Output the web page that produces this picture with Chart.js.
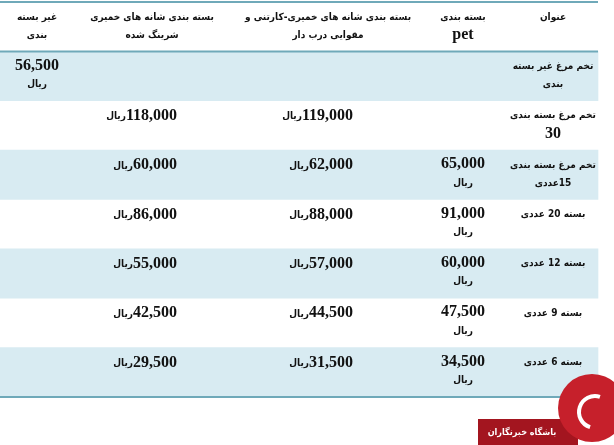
<!DOCTYPE html>
<html>
<head>
<meta charset="utf-8">
<script src="https://cdn.jsdelivr.net/npm/chart.js@4"></script>
<style>
  body { margin: 0; background: #fff; }
  #wrap { width: 614px; height: 445px; }
</style>
</head>
<body>
<div id="wrap"><canvas id="myChart" width="614" height="445"></canvas></div>
<script>
'use strict';

// header texts (right to left columns)
const headers = [
    ['عنوان'],
    ['بسته بندی', 'pet'],
    ['بسته بندی شانه های خمیری-کارتنی و', 'مقوایی درب دار'],
    ['بسته بندی شانه های خمیری', 'شرینگ شده'],
    ['غیر بسته', 'بندی']
];

// row titles
const rowTitles = [
    ['تخم مرغ غیر بسته', 'بندی'],
    ['تخم مرغ بسته بندی', '30'],
    ['تخم مرغ بسته بندی', '15عددی'],
    ['بسته 20 عددی'],
    ['بسته 12 عددی'],
    ['بسته 9 عددی'],
    ['بسته 6 عددی']
];

// prices in rial
const petPrices = [null, null, 65000, 91000, 60000, 47500, 34500];
const cartonPrices = [null, 119000, 62000, 88000, 57000, 44500, 31500];
const shrinkPrices = [null, 118000, 60000, 86000, 55000, 42500, 29500];
const unpackedPrices = [56500, null, null, null, null, null, null];

const rowLabels = ['header'].concat(rowTitles.map(function (t, i) { return 'r' + i; }));

// shaded rows (every other data row)
let bands = [];
for (let i = 0; i < rowLabels.length; i++) {
    bands.push(i % 2 === 1 ? [0, 598] : null);
}

const serif = 'bold 16px "Liberation Serif"';
const arab = 'bold 10px "DejaVu Sans Condensed", "DejaVu Sans"';
const rial = 'ریال';

function fmt(v) {
    return v.toLocaleString('en-US');
}

//table plugin
const tablePlugin = {
    id: 'tableText',
    afterDatasetsDraw(chart) {
        const ctx = chart.ctx;
        const x = chart.scales.x;
        const y = chart.scales.y;
        const band = y.getPixelForValue(1) - y.getPixelForValue(0);
        const top = function (i) { return y.getPixelForValue(i) - band / 2; };
        ctx.save();
        ctx.textBaseline = 'middle';
        ctx.fillStyle = '#111';

        // headers
        const hx = [553, 463, 328, 152, 37];
        for (let c = 0; c < headers.length; c++) {
            for (let l = 0; l < headers[c].length; l++) {
                const s = headers[c][l];
                ctx.font = s === 'pet' ? serif : arab;
                ctx.direction = 'rtl';
                ctx.textAlign = 'center';
                ctx.fillText(s, x.getPixelForValue(hx[c]), top(0) + 15 + l * 18);
            }
        }

        for (let r = 0; r < rowTitles.length; r++) {
            const t0 = top(r + 1);
            // title
            for (let l = 0; l < rowTitles[r].length; l++) {
                const s = rowTitles[r][l];
                ctx.font = /^\d+$/.test(s) ? serif : arab;
                ctx.direction = 'rtl';
                ctx.textAlign = 'center';
                ctx.fillText(s, x.getPixelForValue(553), t0 + 15 + l * 18);
            }
            // stacked price cells
            [[petPrices, 463], [unpackedPrices, 37]].forEach(function (p) {
                const v = p[0][r];
                if (v === null) return;
                ctx.direction = 'ltr';
                ctx.textAlign = 'center';
                ctx.font = serif;
                ctx.fillText(fmt(v), x.getPixelForValue(p[1]), t0 + 14);
                ctx.font = arab;
                ctx.direction = 'rtl';
                ctx.fillText(rial, x.getPixelForValue(p[1]), t0 + 33);
            });
            // inline price cells
            [[cartonPrices, 353], [shrinkPrices, 177]].forEach(function (p) {
                const v = p[0][r];
                if (v === null) return;
                const px = x.getPixelForValue(p[1]);
                ctx.direction = 'ltr';
                ctx.textAlign = 'right';
                ctx.font = serif;
                const s = fmt(v);
                ctx.fillText(s, px, t0 + 15);
                const w = ctx.measureText(s).width;
                ctx.font = arab;
                ctx.fillText(rial, px - w, t0 + 16);
            });
        }

        // rules
        ctx.strokeStyle = '#6fa9b9';
        ctx.lineWidth = 2;
        [top(0), top(1), top(rowLabels.length)].forEach(function (yy) {
            ctx.beginPath();
            ctx.moveTo(x.getPixelForValue(0), yy);
            ctx.lineTo(x.getPixelForValue(598), yy);
            ctx.stroke();
        });

        // logo
        ctx.fillStyle = '#a3151f';
        ctx.fillRect(478, 419, 100, 26);
        ctx.beginPath();
        ctx.fillStyle = '#c6202b';
        ctx.arc(592, 408, 34, 0, Math.PI * 2);
        ctx.fill();
        ctx.strokeStyle = '#fff';
        ctx.lineWidth = 4;
        ctx.beginPath();
        ctx.arc(595, 412, 16, Math.PI * 0.6, Math.PI * 1.6);
        ctx.stroke();
        ctx.fillStyle = '#fff';
        ctx.font = 'bold 9px "DejaVu Sans Condensed", "DejaVu Sans"';
        ctx.direction = 'rtl';
        ctx.textAlign = 'center';
        ctx.fillText('باشگاه خبرنگاران', 522, 433);
        ctx.restore();
    }
};

let data = {
    labels: rowLabels,
    datasets: [{
        data: bands,
        backgroundColor: '#d8ebf2',
        borderWidth: 0,
        barPercentage: 1,
        categoryPercentage: 1
    }]
};

let config = {
    type: 'bar',
    data,
    options: {
        indexAxis: 'y',
        responsive: false,
        animation: false,
        layout: { padding: { top: 2, bottom: 48, left: 0, right: 0 } },
        plugins: { legend: { display: false }, tooltip: { enabled: false } },
        scales: {
            x: { type: 'linear', min: 0, max: 614, display: false },
            y: { display: false }
        }
    },
    plugins: [tablePlugin]
};

let myChart = new Chart(document.getElementById('myChart'), config);
</script>
</body>
</html>
